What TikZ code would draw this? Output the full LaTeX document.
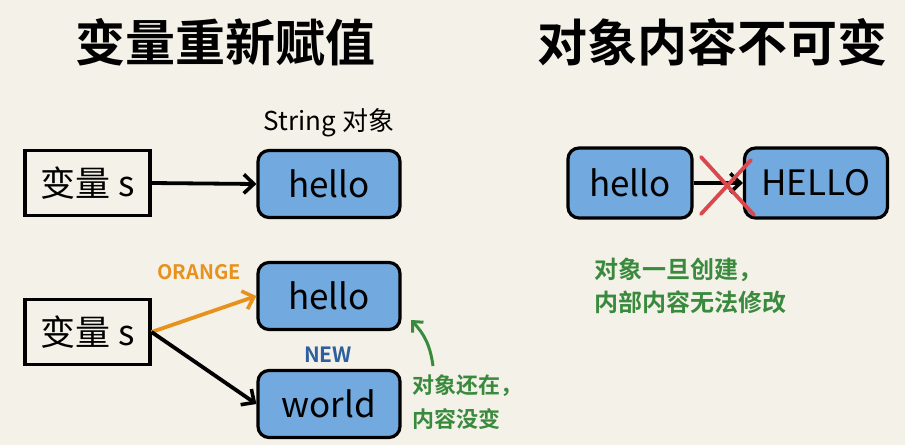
\documentclass[tikz,border=0pt]{standalone}
\usepackage{fontspec}
\setmainfont{Noto Sans CJK SC}
\newfontfamily\medfont{Noto Sans CJK SC}
\newfontfamily\heavyfont{Noto Sans CJK SC Bold}
\usetikzlibrary{arrows.meta}
\definecolor{bg}{HTML}{F4F1E8}
\definecolor{objblue}{HTML}{72A9DF}
\definecolor{orng}{HTML}{E8921E}
\definecolor{grn}{HTML}{3A8A3E}
\definecolor{rd}{HTML}{D9484C}
\definecolor{nblue}{HTML}{2E5F9E}
\tikzset{
  varbox/.style={draw=black, line width=3.2pt, fill=bg, minimum width=125pt, minimum height=65pt, inner sep=0pt, font=\medfont\fontsize{35}{38}\selectfont},
  objbox/.style={draw=black, line width=3.2pt, fill=objblue, rounded corners=11pt, minimum width=142pt, minimum height=67pt, inner sep=0pt, font=\medfont\fontsize{35}{38}\selectfont},
  title/.style={font=\heavyfont\fontsize{50}{54}\selectfont},
  note/.style={font=\heavyfont\fontsize{22}{34}\selectfont, text=grn, align=left},
  ptr/.style={line width=3.8pt, -{Straight Barb[length=10pt,width=19pt,line width=3.6pt]}},
}
\begin{document}
\begin{tikzpicture}[x=1pt,y=-1pt]
\path[use as bounding box, fill=bg] (0,0) rectangle (905,445);
% titles
\node[title] (t1) at (225,42) {变量重新赋值};
\node[title] (t2) at (712,42) {对象内容不可变};
% top left
\node[varbox] (v1) at (87.5,183) {变量 s};
\node[objbox] (h1) at (329,184) {hello};
\node[font=\fontsize{26}{28}\selectfont] (lbl) at (329,123) {String 对象};
\draw[ptr] (v1.east) -- (h1.west);
% bottom left
\node[varbox] (v2) at (87.5,332) {变量 s};
\node[objbox] (h2) at (329,296) {hello};
\node[objbox] (w) at (329,404) {world};
\node[font=\heavyfont\fontsize{20}{23}\selectfont, text=orng] (or) at (199,272) {ORANGE};
\node[font=\heavyfont\fontsize{21}{24}\selectfont, text=nblue] (nw) at (328,355) {NEW};
\draw[ptr, draw=orng] (v2.east) -- (h2.west);
\draw[ptr] (v2.east) -- (w.west);
\node[note] (n1) at (467,402) {对象还在，\\内容没变};
\coordinate (ga) at (433,366);
\draw[line width=3pt, grn, -{Straight Barb[length=8pt,width=15pt,line width=3pt]}] (ga) to[bend right=18] (411,320);
% right
\node[objbox, minimum width=124pt, minimum height=70pt] (h3) at (630,183) {hello};
\node[objbox, minimum width=143pt, minimum height=70pt] (H) at (816,183) {HELLO};
\draw[ptr] (h3.east) -- (H.west);
\coordinate (x1) at (701,157);
\coordinate (x2) at (754,215);
\coordinate (x3) at (701,214);
\coordinate (x4) at (751,160);
\draw[rd, line width=3.8pt, line cap=round] (x1) -- (x2) (x3) -- (x4);
\node[note, font=\heavyfont\fontsize{24}{33}\selectfont] (n2) at (690,286) {对象一旦创建，\\内部内容无法修改};
\end{tikzpicture}
\end{document}
